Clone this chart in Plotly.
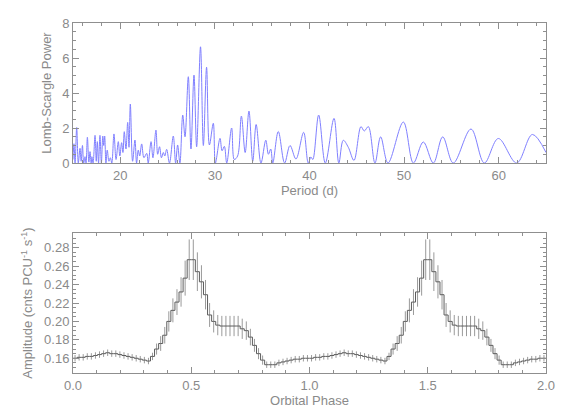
import numpy as np
import plotly.graph_objects as go

period = [
    15.0, 15.1, 15.22, 15.39, 15.56, 15.74, 15.86, 16.0, 16.13, 16.27,
    16.38, 16.52, 16.68, 16.8, 16.92, 17.0, 17.12, 17.33, 17.46, 17.57,
    17.7, 17.85, 18.0, 18.15, 18.25, 18.35, 18.48, 18.62, 18.8, 18.95,
    19.1, 19.33, 19.55, 19.79, 19.95, 20.14, 20.28, 20.42, 20.6, 20.78,
    20.92, 21.06, 21.3, 21.55, 21.72, 21.9, 22.05, 22.26, 22.5, 22.79,
    22.95, 23.25, 23.45, 23.77, 23.95, 24.15, 24.35, 24.55, 24.7, 24.9,
    25.2, 25.6, 25.85, 26.06, 26.3, 26.6, 26.84, 27.19, 27.47, 27.79,
    28.07, 28.48, 28.78, 29.12, 29.42, 29.83, 30.05, 30.54, 30.76, 31.0,
    31.25, 31.77, 32.05, 32.4, 32.8, 33.2, 33.6, 34.0, 34.36, 34.87,
    35.38, 35.66, 35.9, 36.12, 36.7, 37.37, 37.94, 38.57, 39.38, 39.87,
    40.15, 40.35, 40.97, 41.67, 42.59, 43.1, 43.57, 44.1, 44.7, 45.44,
    45.79, 46.22, 46.92, 47.52, 48.3, 49.92, 50.98, 52.03, 53.09, 54.08,
    55.2, 57.07, 58.48, 59.96, 61.9, 63.56, 65.0,
]
power = [
    0.2, 1.1, 0.0, 2.03, 0.0, 0.84, 0.1, 1.0, 0.0, 0.36,
    0.0, 1.47, 0.05, 0.65, 0.0, 0.36, 0.0, 1.58, 0.1, 1.22,
    0.0, 1.58, 0.0, 1.54, 1.0, 1.54, 0.0, 0.74, 0.1, 0.3,
    0.0, 1.66, 0.2, 1.22, 0.4, 1.16, 0.6, 1.79, 0.8, 2.32,
    0.9, 3.37, 0.1, 1.31, 0.0, 0.74, 0.4, 1.09, 0.3, 0.55,
    0.0, 1.22, 0.3, 1.88, 0.5, 0.93, 0.3, 0.6, 0.4, 0.78,
    0.0, 1.54, 0.0, 1.03, 0.0, 2.74, 1.5, 4.93, 0.8, 5.02,
    0.93, 6.64, 1.0, 5.47, 1.03, 2.27, 0.0, 1.41, 0.7, 0.95,
    0.0, 2.0, 0.2, 0.4, 2.68, 0.6, 2.97, 0.1, 2.2, 0.0,
    1.3, 0.5, 0.8, 0.0, 1.8, 0.0, 1.0, 0.23, 1.75, 0.0,
    0.34, 0.2, 2.74, 0.0, 2.55, 0.0, 1.3, 0.9, 0.15, 2.08,
    1.83, 2.08, 0.0, 1.49, 0.0, 2.34, 0.0, 1.2, 0.0, 1.49,
    0.0, 1.94, 0.0, 1.4, 0.0, 1.63, 0.6,
]

# folded light curve, 58 phase bins per cycle, plotted twice
n_bins = 58
amplitude = [
    0.160, 0.161, 0.161, 0.162, 0.162, 0.163, 0.164, 0.165, 0.166, 0.165,
    0.165, 0.164, 0.163, 0.162, 0.161, 0.160, 0.159, 0.158, 0.157, 0.162,
    0.170, 0.176, 0.185, 0.200, 0.212, 0.221, 0.232, 0.247, 0.267, 0.267,
    0.254, 0.243, 0.229, 0.207, 0.200, 0.196, 0.195, 0.195, 0.195, 0.195,
    0.195, 0.192, 0.190, 0.183, 0.174, 0.165, 0.158, 0.153, 0.153, 0.153,
    0.155, 0.156, 0.157, 0.158, 0.159, 0.159, 0.160, 0.160,
]
amp_err = [
    0.0035, 0.0035, 0.0035, 0.0035, 0.0035, 0.0035, 0.0035, 0.0035, 0.0035, 0.0035,
    0.0035, 0.0035, 0.0035, 0.0035, 0.0035, 0.0035, 0.0035, 0.0035, 0.0035, 0.004,
    0.006, 0.008, 0.009, 0.011, 0.013, 0.014, 0.016, 0.019, 0.022, 0.022,
    0.021, 0.018, 0.016, 0.013, 0.012, 0.011, 0.011, 0.011, 0.011, 0.011,
    0.011, 0.011, 0.010, 0.009, 0.007, 0.006, 0.005, 0.0035, 0.0035, 0.0035,
    0.0035, 0.0035, 0.0035, 0.0035, 0.0035, 0.0035, 0.0035, 0.0035,
]

phase_one = (np.arange(n_bins) + 0.5) / n_bins
phase = np.concatenate([phase_one, phase_one + 1.0])
amp2 = amplitude + amplitude
err2 = amp_err + amp_err

GREY = "#8f8f8f"
FONT = dict(family="Liberation Sans, Arial, sans-serif", size=13, color="#8a8a8a")

fig = go.Figure()

fig.add_trace(
    go.Scatter(
        x=period,
        y=power,
        mode="lines",
        line=dict(color="#8080ff", width=1, shape="spline", smoothing=1.0),
        xaxis="x",
        yaxis="y",
        showlegend=False,
    )
)

# error bars at bin centres
fig.add_trace(
    go.Scatter(
        x=phase,
        y=amp2,
        mode="markers",
        marker=dict(size=1, color="rgba(0,0,0,0)"),
        error_y=dict(type="data", array=err2, width=0, thickness=1, color="#9a9a9a"),
        xaxis="x2",
        yaxis="y2",
        showlegend=False,
    )
)

# histogram-style step line
fig.add_trace(
    go.Scatter(
        x=[0.0] + list(phase) + [2.0],
        y=[amp2[0]] + amp2 + [amp2[-1]],
        mode="lines",
        line=dict(color="#5c5c5c", width=1, shape="hvh"),
        xaxis="x2",
        yaxis="y2",
        showlegend=False,
    )
)

axis_common = dict(
    showline=True,
    linecolor=GREY,
    linewidth=1,
    mirror="allticks",
    ticks="inside",
    ticklen=6,
    tickcolor=GREY,
    showgrid=False,
    zeroline=False,
    tickfont=FONT,
    automargin=False,
)

fig.update_layout(
    width=568,
    height=419,
    margin=dict(l=73, r=22, t=23, b=46),
    paper_bgcolor="white",
    plot_bgcolor="white",
    font=FONT,
    xaxis=dict(
        axis_common,
        domain=[0, 1],
        anchor="y",
        range=[15, 65],
        dtick=10,
        minor=dict(dtick=2, ticklen=3, ticks="inside", tickcolor=GREY),
        title=dict(text="Period (d)", font=FONT, standoff=2),
    ),
    yaxis=dict(
        axis_common,
        domain=[0.6, 1.0],
        anchor="x",
        range=[0, 8],
        dtick=2,
        minor=dict(dtick=0.5, ticklen=3, ticks="inside", tickcolor=GREY),
        title=dict(text="Lomb-Scargle Power", font=FONT, standoff=7),
    ),
    xaxis2=dict(
        axis_common,
        domain=[0, 1],
        anchor="y2",
        range=[0, 2],
        dtick=0.5,
        tickformat=".1f",
        minor=dict(dtick=0.1, ticklen=3, ticks="inside", tickcolor=GREY),
        title=dict(text="Orbital Phase", font=FONT, standoff=2),
    ),
    yaxis2=dict(
        axis_common,
        domain=[0, 0.4],
        anchor="x2",
        range=[0.144, 0.296],
        dtick=0.02,
        tickformat=".2f",
        minor=dict(dtick=0.005, ticklen=3, ticks="inside", tickcolor=GREY),
        title=dict(
            text="Amplitude (cnts PCU<sup>-1</sup> s<sup>-1</sup>)",
            font=FONT,
            standoff=8,
        ),
    ),
)

# drop the browser's default page margin so the figure sits at the window corner
fig.write_html(
    "out.html",
    config={"displayModeBar": False},
    post_script="document.body.style.margin = '0';",
)
